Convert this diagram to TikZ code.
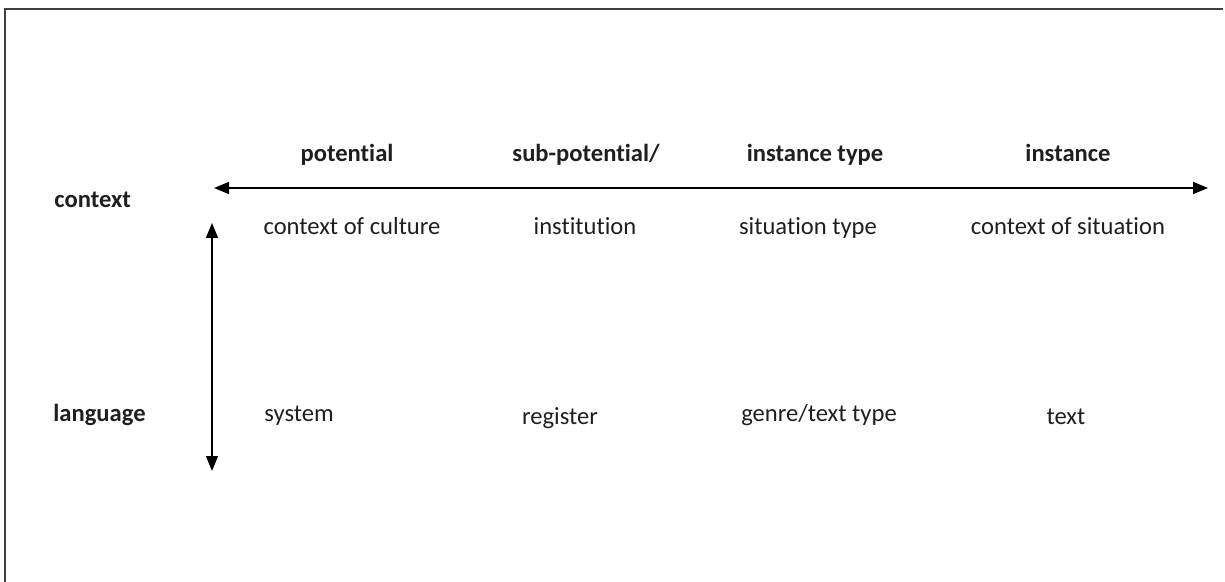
\documentclass[tikz,border=0pt]{standalone}
\usepackage{fontspec}
\setmainfont[Ligatures={NoCommon}]{Carlito}
\usetikzlibrary{arrows.meta}
\begin{document}
\begin{tikzpicture}[x=0.5pt,y=-0.5pt,
  lbl/.style={inner sep=0pt,anchor=base,font=\fontsize{12.3}{14}\selectfont,text=black!88},
  hdr/.style={lbl,font=\fontsize{12.3}{14}\selectfont\bfseries},
  axis/.style={line width=0.8pt,{Triangle[length=7.5pt,width=6pt]}-{Triangle[length=7.5pt,width=6pt]}},
  frame/.style={line width=1pt,draw=black!75}]
\useasboundingbox (0,0) rectangle (1225,582);
\draw[frame] (5,582) -- (5,9) -- (1223,9);
% column headers
\node[hdr] (hpot) at (347,162) {potential};
\node[hdr] (hsub) at (586,162) {sub-potential/};
\node[hdr] (hityp) at (815,162) {instance type};
\node[hdr] (hinst) at (1068,162) {instance};
% row labels
\node[hdr,anchor=base west] (rctx) at (54,208) {context};
\node[hdr,anchor=base west] (rlang) at (53,422) {language};
% context row
\node[lbl] (cculture) at (352,235) {context of culture};
\node[lbl] (cinst) at (585,235) {institution};
\node[lbl] (csit) at (808,235) {situation type};
\node[lbl] (csituation) at (1068,235) {context of situation};
% language row
\node[lbl,anchor=base west] (lsys) at (264,422) {system};
\node[lbl] (lreg) at (560,424) {register};
\node[lbl] (lgenre) at (819,422) {genre/text type};
\node[lbl] (ltext) at (1066,424) {text};
% axes
\coordinate (hl) at (214,188);
\coordinate (hr) at (1208,188);
\coordinate (vt) at (212,223);
\coordinate (vb) at (212,471);
\draw[axis] (hl) -- (hr);
\draw[axis] (vt) -- (vb);
\end{tikzpicture}
\end{document}
